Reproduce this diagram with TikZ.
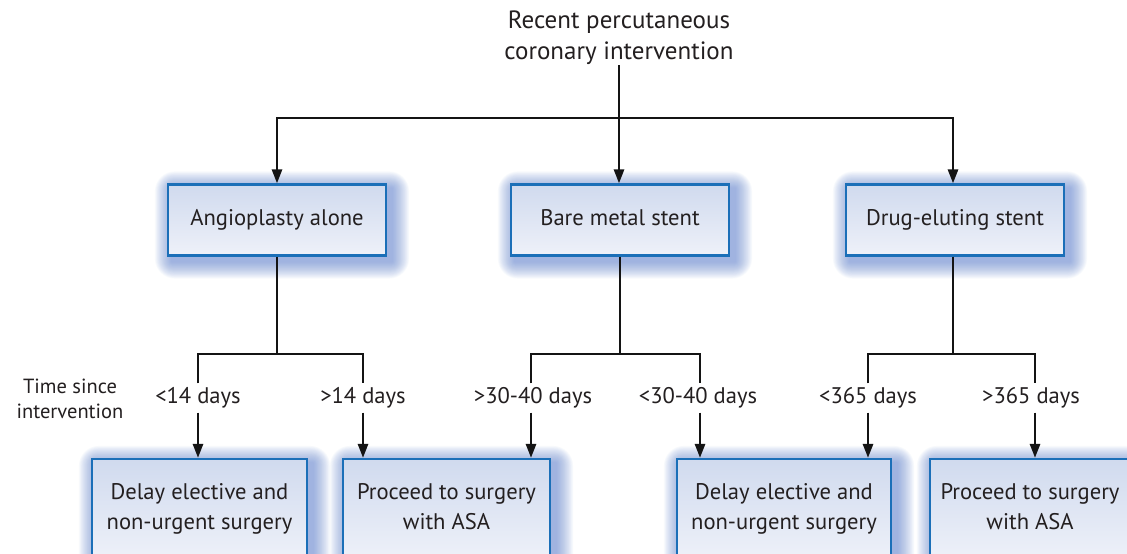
\documentclass[tikz,border=0pt]{standalone}
\usepackage{fontspec}
\setmainfont{PT Sans}
\usetikzlibrary{arrows.meta,backgrounds,calc}
\definecolor{boxblue}{HTML}{1B6FB8}
\definecolor{shadowblue}{HTML}{5F82D0}
\definecolor{filltop}{HTML}{D0DAEE}
\definecolor{fillbot}{HTML}{EEF1F9}
\definecolor{txt}{HTML}{231F20}
\tikzset{
  stepbox/.style={draw=boxblue, line width=2.2pt, top color=filltop, bottom color=fillbot,
    minimum width=218pt, minimum height=71pt, inner sep=0pt, text=txt,
    font=\fontsize{22.6}{30}\selectfont, align=center},
  onebox/.style={stepbox, text height=16pt, text depth=5pt},
  endbox/.style={stepbox, minimum height=100pt},
  conn/.style={line width=2.7pt, draw=black!92},
  arr/.style={conn, -{Triangle[width=10pt,length=14pt]}},
  lab/.style={text=txt, font=\fontsize{22.6}{30}\selectfont, inner xsep=0pt, inner ysep=4pt},
  side/.style={text=txt, font=\fontsize{20.5}{25}\selectfont, align=center, inner sep=0pt}
}
\newcommand\blurshadow[1]{%
  \begin{scope}[on background layer]
    \foreach \i in {1,...,20} {
      \fill[shadowblue, opacity=0.04, rounded corners=\i pt]
        ($(#1.south west)+(-\i*0.85pt+5pt,-\i*0.85pt-5pt)$) rectangle
        ($(#1.north east)+(\i*0.85pt+5pt,\i*0.85pt-5pt)$);
    }
  \end{scope}}
\begin{document}
\begin{tikzpicture}[x=1pt,y=-1pt]
  \useasboundingbox (0,0) rectangle (1127,554);
  \begin{scope}[on background layer]
    \fill[white] (0,0) rectangle (1127,554);
  \end{scope}

  \node[text=txt, font=\fontsize{25}{31}\selectfont, align=center, inner sep=0pt] (top) at (619,38)
    {Recent percutaneous\\coronary intervention};

  \node[onebox] (ang) at (277,220) {Angioplasty alone};
  \node[onebox] (bms) at (620,220) {Bare metal stent};
  \node[onebox] (des) at (955,220) {Drug-eluting stent};

  \node[endbox, minimum width=215pt] (d1) at (199.5,509) {Delay elective and\\non-urgent surgery};
  \node[endbox, minimum width=207pt] (p1) at (446.5,509) {Proceed to surgery\\with ASA\vphantom{gy}};
  \node[endbox, minimum width=214pt] (d2) at (784,509) {Delay elective and\\non-urgent surgery};
  \node[endbox, minimum width=200pt] (p2) at (1030,509) {Proceed to surgery\\with ASA\vphantom{gy}};

  \blurshadow{ang}\blurshadow{bms}\blurshadow{des}
  \blurshadow{d1}\blurshadow{p1}\blurshadow{d2}\blurshadow{p2}

  \node[side] (tsi) at (70,399) {Time since\\intervention};
  \node[lab] (l1) at (198,398) {<14 days};
  \node[lab] (l2) at (363,398) {>14 days};
  \node[lab] (l3) at (533,398) {>30-40 days};
  \node[lab] (l4) at (698,398) {<30-40 days};
  \node[lab] (l5) at (868,398) {<365 days};
  \node[lab] (l6) at (1031,398) {>365 days};

  \coordinate (hl) at (618,118);
  \coordinate (b1) at (277,354);
  \coordinate (b2) at (620,354);
  \coordinate (b3) at (953,354);
  \coordinate (x1) at (198,0);
  \coordinate (x2) at (363,0);
  \coordinate (x3) at (531,0);
  \coordinate (x4) at (700,0);
  \coordinate (x5) at (868,0);
  \coordinate (x6) at (1035,0);

  \draw[arr] (top.south) -- (top.south |- bms.north);
  \draw[arr] (hl) -| (ang.north);
  \draw[arr] (hl) -| (des.north -| b3);

  \draw[conn] (ang.south) -- (b1);
  \draw[conn] (l1.north -| x1) |- (b1) -| (l2.north -| x2);
  \draw[conn] (bms.south) -- (b2);
  \draw[conn] (l3.north -| x3) |- (b2) -| (l4.north -| x4);
  \draw[conn] (des.south -| b3) -- (b3);
  \draw[conn] (l5.north -| x5) |- (b3) -| (l6.north -| x6);

  \draw[arr] (l1.south -| x1) -- (x1 |- d1.north);
  \draw[arr] (l2.south -| x2) -- (x2 |- p1.north);
  \draw[arr] (l3.south -| x3) -- (x3 |- p1.north);
  \draw[arr] (l4.south -| x4) -- (x4 |- d2.north);
  \draw[arr] (l5.south -| x5) -- (x5 |- d2.north);
  \draw[arr] (l6.south -| x6) -- (x6 |- p2.north);
\end{tikzpicture}
\end{document}
